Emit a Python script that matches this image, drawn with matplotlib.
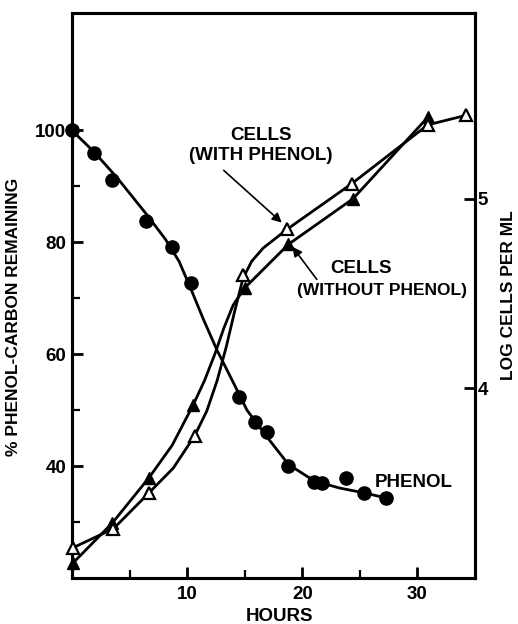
import matplotlib.pyplot as plt

plt.rcParams["font.family"] = ["Liberation Sans", "DejaVu Sans"]
plt.rcParams["font.weight"] = "bold"

# phenol remaining (%), measured points
phenol_h = [0, 1.9, 3.5, 6.4, 8.7, 10.3, 14.5, 15.9, 16.9, 18.8, 21.0, 21.7, 23.8, 25.4, 27.3]
phenol_pct = [100, 95.9, 91.1, 83.9, 79.1, 72.7, 52.3, 47.9, 46.1, 40.0, 37.1, 37.0, 37.9, 35.2, 34.3]
# fitted phenol curve as drawn
phenol_curve_h = [0, 1.9, 3.9, 6.4, 8.1, 9.3, 10.3, 11.4, 12.6, 13.8, 15.2, 16.9, 18.8, 21.0, 23.2, 25.4, 27.3]
phenol_curve_pct = [100, 96.2, 91.6, 85.2, 80.6, 76.6, 71.8, 66.3, 60.7, 55.8, 50.0, 45.3, 40.3, 37.4, 36.1, 35.2, 34.3]

# log cells per ml, with phenol (open triangles)
with_h = [0.1, 3.6, 6.7, 10.65, 14.85, 18.7, 24.3, 30.9, 34.2]
with_log = [3.16, 3.26, 3.45, 3.75, 4.60, 4.84, 5.08, 5.39, 5.44]
with_curve_h = [0.1, 3.6, 6.7, 8.8, 10.65, 11.7, 12.6, 13.4, 14.1, 14.85, 15.6, 16.6, 18.7, 24.3, 30.9, 34.2]
with_curve_log = [3.16, 3.26, 3.45, 3.58, 3.75, 3.88, 4.04, 4.22, 4.40, 4.58, 4.67, 4.74, 4.84, 5.08, 5.39, 5.44]

# log cells per ml, without phenol (filled triangles)
without_h = [0.1, 3.5, 6.7, 10.5, 15.0, 18.8, 24.4, 30.9]
without_log = [3.08, 3.29, 3.53, 3.91, 4.53, 4.76, 5.00, 5.43]
without_curve_h = [0.1, 3.5, 6.7, 8.7, 10.5, 11.5, 12.4, 13.2, 14.0, 15.0, 18.8, 24.4, 30.9]
without_curve_log = [3.08, 3.29, 3.53, 3.70, 3.91, 4.04, 4.18, 4.32, 4.44, 4.53, 4.76, 5.00, 5.43]

fig = plt.figure(figsize=(5.18, 6.24), dpi=100)
ax = fig.add_axes([72 / 518, 1 - 578 / 624, 403 / 518, 565 / 624])
ax2 = ax.twinx()

ax.plot(phenol_curve_h, phenol_curve_pct, color="black", lw=2.0, zorder=2)
ax.plot(phenol_h, phenol_pct, "o", color="black", ms=9.5, zorder=3, clip_on=False)

ax2.plot(with_curve_h, with_curve_log, color="black", lw=2.0, zorder=2)
ax2.plot(without_curve_h, without_curve_log, color="black", lw=2.0, zorder=2)
ax2.plot(with_h, with_log, "^", mfc="white", mec="black", mew=1.6, ms=9, zorder=4, clip_on=False)
ax2.plot(without_h, without_log, "^", color="black", ms=9, zorder=3, clip_on=False)

ax.set_xlim(0, 35)
ax.set_ylim(20, 121)
ax2.set_ylim(3, 5.98)

ax.set_xticks([10, 20, 30])
ax.set_xticks([5, 15, 25], minor=True)
ax.set_yticks([40, 60, 80, 100])
ax.set_yticks([30, 50, 70, 90], minor=True)
ax2.set_yticks([4, 5])

for a in (ax, ax2):
    for s in a.spines.values():
        s.set_linewidth(2.2)
    a.tick_params(which="major", direction="in", length=8, width=2, labelsize=13.5)
    a.tick_params(which="minor", direction="in", length=6, width=1.6)
ax.tick_params(axis="y", pad=4)
ax.tick_params(axis="x", pad=6)
ax2.tick_params(axis="y", pad=2)

ax.set_xlabel("HOURS", fontsize=13.5, fontweight="bold")
ax.xaxis.set_label_coords(0.514, -0.053)
ax.set_ylabel("% PHENOL-CARBON REMAINING", fontsize=12.5, fontweight="bold")
ax.yaxis.set_label_coords(-0.127, 0.462)
ax2.set_ylabel("LOG CELLS PER ML", fontsize=12.5, fontweight="bold", rotation=90)
ax2.yaxis.set_label_coords(1.064, 0.50)

ax.text(16.4, 97.3, "CELLS\n(WITH PHENOL)", ha="center", va="center", fontsize=13.5,
        fontweight="bold", linespacing=1.25)
ax.annotate("", xy=(18.4, 83.2), xytext=(13.0, 93.2),
            arrowprops=dict(arrowstyle="-|>", lw=1.2, color="black", mutation_scale=14))
ax.text(25.1, 75.4, "CELLS", ha="center", va="center", fontsize=13.5, fontweight="bold")
ax.text(26.9, 71.4, "(WITHOUT PHENOL)", ha="center", va="center", fontsize=12.5, fontweight="bold")
ax.annotate("", xy=(19.0, 79.6), xytext=(21.4, 73.0),
            arrowprops=dict(arrowstyle="-|>", lw=1.2, color="black", mutation_scale=14))
ax.text(26.3, 37.0, "PHENOL", ha="left", va="center", fontsize=13.5, fontweight="bold")

plt.savefig("out.png", dpi=100)
